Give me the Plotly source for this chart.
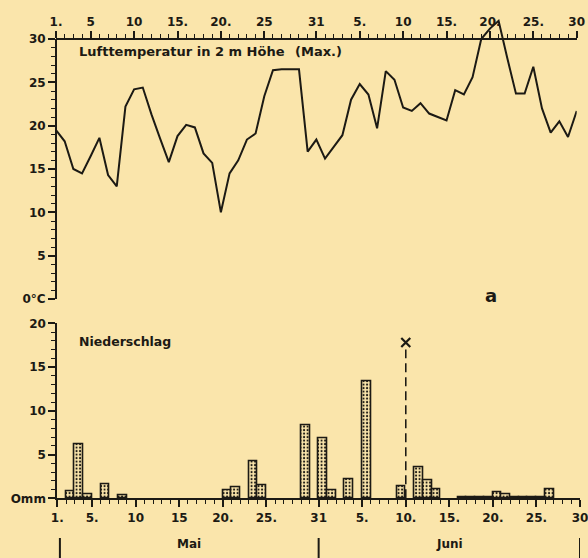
import plotly.graph_objects as go

W, H = 588, 558
BG = "#fae5ab"
INK = "#1c1a14"
FONT = "DejaVu Sans"

# ---- data ----
days = list(range(1, 62))  # 1..31 = Mai, 32..61 = Juni
temp_max = [19.5, 18.2, 15.0, 14.5, 16.5, 18.6, 14.3, 13.0, 22.2, 24.2,
            24.4, 21.3, 18.5, 15.8, 18.8, 20.1, 19.8, 16.8, 15.7, 10.0,
            14.5, 16.0, 18.4, 19.1, 23.4, 26.4, 26.5, 26.5, 26.5, 17.0,
            18.4, 16.2, 17.5, 18.9, 23.0, 24.8, 23.6, 19.7, 26.3, 25.3,
            22.1, 21.7, 22.6, 21.4, 21.0, 20.6, 24.1, 23.6, 25.6, 30.0,
            31.2, 32.1, 27.8, 23.7, 23.7, 26.8, 22.0, 19.2, 20.5, 18.7, 21.7]

prec_days = [2, 3, 4, 6, 8, 20, 21, 23, 24, 29, 31, 32, 34, 36, 40, 42, 43, 44,
             47, 48, 49, 50, 51, 52, 53, 54, 55, 56, 57]
prec_mm = [0.8, 6.15, 0.5, 1.65, 0.3, 0.9, 1.25, 4.25, 1.5, 8.4, 6.9, 0.9, 2.2, 13.4,
           1.35, 3.6, 2.1, 1.0, 0.15, 0.15, 0.15, 0.15, 0.7, 0.5, 0.15, 0.15, 0.15,
           0.15, 1.0]

marker_day = 41
marker_line_top = 17.0
marker_top = 17.8

top_tickvals = [1, 5, 10, 15, 20, 25, 31, 36, 41, 46, 51, 56, 61]
top_ticktext = ["1.", "5", "10", "15.", "20.", "25", "31", "5.", "10", "15.", "20.", "25.", "30"]
bot_tickvals = [1, 5, 10, 15, 20, 25, 31, 36, 41, 46, 51, 56, 61]
bot_ticktext = ["1.", "5.", "10", "15", "20.", "25.", "31", "5.", "10.", "15.", "20.", "25.", "30"]
temp_tickvals = [0, 5, 10, 15, 20, 25, 30]
temp_ticktext = ["0°C", "5", "10", "15", "20", "25", "30"]
prec_tickvals = [0, 5, 10, 15, 20]
prec_ticktext = ["Omm", "5", "10", "15", "20"]

month_edges = [1.3, 31, 61]
month_names = ["Mai", "Juni"]

# ---- figure ----
fig = go.Figure()
fig.add_trace(go.Scatter(x=days, y=temp_max, mode="lines",
                         line=dict(color=INK, width=2), xaxis="x", yaxis="y",
                         showlegend=False, hoverinfo="skip"))
fig.add_trace(go.Bar(x=prec_days, y=prec_mm, width=1, offset=0,
                     xaxis="x2", yaxis="y2", showlegend=False,
                     marker=dict(color=BG, line=dict(color=INK, width=1.6),
                                 pattern=dict(shape=".", fgcolor=INK, bgcolor=BG,
                                              size=3.5, solidity=0.28))))
fig.add_trace(go.Scatter(x=[marker_day, marker_day], y=[0, marker_line_top], mode="lines",
                         line=dict(color=INK, width=1.6, dash="9px,5px"),
                         xaxis="x2", yaxis="y2", showlegend=False))
fig.add_trace(go.Scatter(x=[marker_day], y=[marker_top], mode="markers",
                         marker=dict(symbol="x-thin", size=9, line=dict(width=2.2, color=INK)),
                         xaxis="x2", yaxis="y2", showlegend=False, cliponaxis=False))

tickfont = dict(family=FONT, size=12, color=INK, weight="bold")
minor_common = dict(ticklen=4, tickwidth=1.2, tickcolor=INK, ticks="outside", showgrid=False)

fig.update_layout(
    template="none",
    width=W, height=H, autosize=False,
    margin=dict(l=0, r=0, t=0, b=0, pad=0),
    paper_bgcolor=BG, plot_bgcolor="rgba(0,0,0,0)",
    bargap=0,
    xaxis=dict(domain=[56 / W, 576.7 / W], range=[1, 61], anchor="free", automargin=False,
               position=1 - 39 / H, side="top", showline=True, linecolor=INK, linewidth=2,
               ticks="outside", ticklen=7, tickwidth=1.6, tickcolor=INK,
               tickmode="array", tickvals=top_tickvals, ticktext=top_ticktext,
               tickfont=tickfont, showgrid=False, zeroline=False, ticklabeloverflow="allow",
               minor=dict(tickmode="linear", tick0=1, dtick=1, **minor_common)),
    yaxis=dict(domain=[1 - 299 / H, 1 - 8.7 / H], range=[0, 33.5], anchor="x", automargin=False,
               showline=False, ticks="outside", ticklen=7, tickwidth=1.6, tickcolor=INK,
               tickmode="array", tickvals=temp_tickvals, ticktext=temp_ticktext,
               tickfont=tickfont, showgrid=False, zeroline=False,
               minor=dict(tickmode="array", tickvals=list(range(0, 31)), **minor_common)),
    xaxis2=dict(domain=[57.3 / W, 580 / W], range=[1, 61], anchor="y2", automargin=False,
                showline=True, linecolor=INK, linewidth=2,
                ticks="outside", ticklen=7, tickwidth=1.6, tickcolor=INK,
                tickmode="array", tickvals=bot_tickvals, ticktext=bot_ticktext,
                tickfont=tickfont, showgrid=False, zeroline=False, ticklabeloverflow="allow",
                minor=dict(tickmode="linear", tick0=1, dtick=1, **minor_common)),
    yaxis2=dict(domain=[1 - 498.3 / H, 1 - 323.3 / H], range=[0, 20], anchor="x2", automargin=False,
                showline=True, linecolor=INK, linewidth=2,
                ticks="outside", ticklen=7, tickwidth=1.6, tickcolor=INK,
                tickmode="array", tickvals=prec_tickvals, ticktext=prec_ticktext,
                tickfont=tickfont, showgrid=False, zeroline=False,
                minor=dict(tickmode="linear", tick0=0, dtick=1, **minor_common)),
)

# y axis line of the temperature panel (0..30 only)
fig.add_shape(type="line", xref="x domain", yref="y", x0=0, x1=0, y0=0, y1=30,
              line=dict(color=INK, width=2))

fig.add_annotation(text="Lufttemperatur in 2 m Höhe", xref="paper", yref="paper",
                   x=77 / W, y=1 - 51 / H, xanchor="left", yanchor="middle",
                   showarrow=False, font=dict(family=FONT, size=13, color=INK, weight="bold"))
fig.add_annotation(text="(Max.)", xref="paper", yref="paper",
                   x=293 / W, y=1 - 51 / H, xanchor="left", yanchor="middle",
                   showarrow=False, font=dict(family=FONT, size=13, color=INK, weight="bold"))
fig.add_annotation(text="Niederschlag", xref="paper", yref="paper",
                   x=77 / W, y=1 - 341 / H, xanchor="left", yanchor="middle",
                   showarrow=False, font=dict(family=FONT, size=12.5, color=INK, weight="bold"))
fig.add_annotation(text="a", xref="paper", yref="paper",
                   x=491 / W, y=1 - 295 / H, xanchor="center", yanchor="middle",
                   showarrow=False, font=dict(family=FONT, size=18, color=INK, weight="bold"))

for e in month_edges:
    fig.add_shape(type="line", xref="x2", yref="paper", x0=e, x1=e,
                  y0=0, y1=1 - 538 / H, line=dict(color=INK, width=2))
for i, name in enumerate(month_names):
    fig.add_annotation(text=name, xref="x2", yref="paper",
                       x=(month_edges[i] + month_edges[i + 1]) / 2, y=1 - 544 / H,
                       xanchor="center", yanchor="middle", showarrow=False,
                       font=dict(family=FONT, size=12, color=INK, weight="bold"))

fig.write_html("out.html", config={"displayModeBar": False},
               post_script="document.body.style.margin='0';document.body.style.background='%s';" % BG)
